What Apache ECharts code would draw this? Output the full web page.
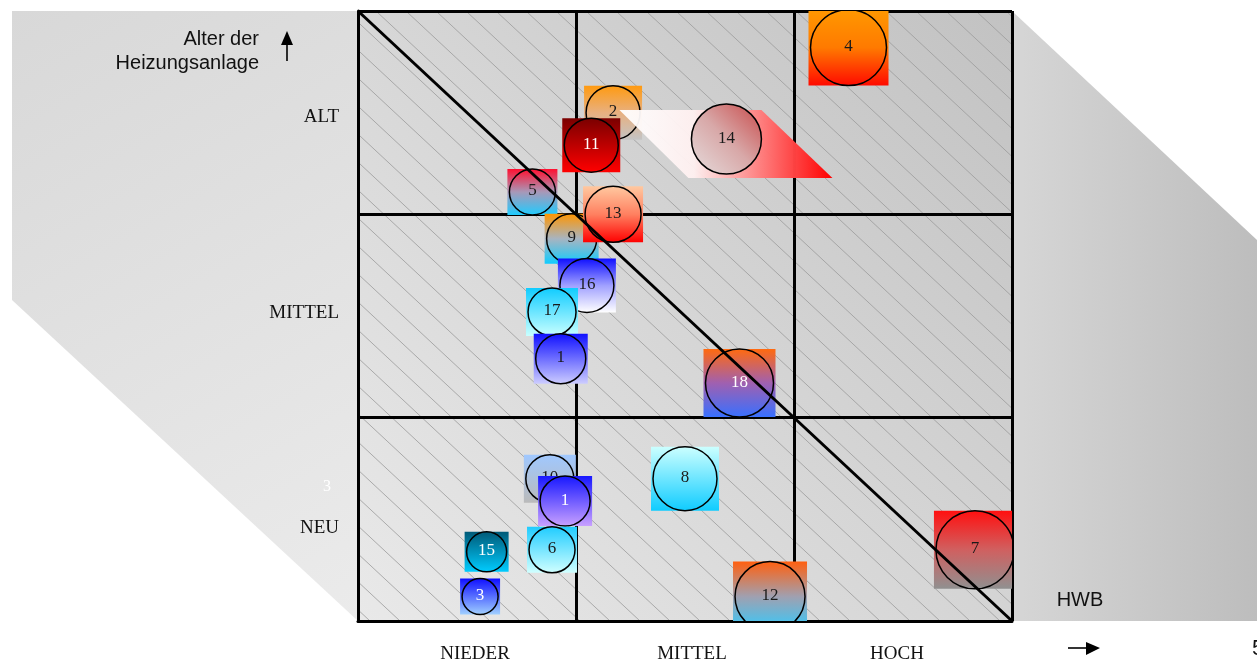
<!DOCTYPE html>
<html><head><meta charset="utf-8">
<script src="https://cdn.jsdelivr.net/npm/echarts@6/dist/echarts.min.js"></script>
<style>html,body{margin:0;padding:0;background:#fff}#c{width:1257px;height:665px}</style>
</head><body><div id="c"></div>
<script>
// ---- Daten ----
const hwbKategorien = ['NIEDER', 'MITTEL', 'HOCH'];
const alterKategorien = ['NEU', 'MITTEL', 'ALT'];
const nummern   = ['4', '2', '14', '11', '5', '9', '13', '16', '17', '1', '18', '10', '1', '8', '15', '6', '3', '12', '7'];
const hwbWerte  = [2.25, 1.17, 1.69, 1.07, 0.80, 0.98, 1.17, 1.05, 0.89, 0.93, 1.75, 0.88, 0.95, 1.50, 0.59, 0.89, 0.56, 1.89, 2.83];
const alterWerte= [2.82, 2.50, 2.37, 2.34, 2.11, 1.88, 2.00, 1.65, 1.52, 1.29, 1.17, 0.70, 0.59, 0.70, 0.34, 0.35, 0.12, 0.12, 0.35];
const groesse   = [39, 28, 35, 28, 24, 26, 29, 28, 25, 26, 35, 25, 26, 33, 21, 24, 19, 36, 40];

// ---- Stile ----
const farbVerlauf = [
  ['#ff9800', '#ff7a00', '#ff0a00'],
  ['#ff9a10', '#e8b080', '#c4c4c4'],
  ['#ffffff', '#ff0000'],
  ['#7a0000', '#ff0000'],
  ['#ff1030', '#a898b8', '#20ccff'],
  ['#ff9500', '#a8b4c0', '#10ccff'],
  ['#ffc8a0', '#ff8060', '#ff0000'],
  ['#1010ff', '#a0a0ff', '#ffffff'],
  ['#10ccff', '#c8ffff'],
  ['#1010ff', '#ccccff'],
  ['#ff6a10', '#a060b0', '#3870ff'],
  ['#a0c8ff', '#bababa'],
  ['#1818ff', '#c8a0ff'],
  ['#ccffff', '#10ccff'],
  ['#005a78', '#00ccff'],
  ['#20ccff', '#d0ffff'],
  ['#1010ff', '#a0d0ff'],
  ['#ff6010', '#a0a0b0', '#30ccff'],
  ['#ff1010', '#d06060', '#909090']
];
const weisseSchrift = [false, false, false, true, false, false, false, false, false, false, true, false, true, false, true, false, true, false, false];

const L = 358, T = 11, W = 654, H = 610;
const chart = echarts.init(document.getElementById('c'));

function stopsOf(arr) {
  return arr.map((c, j, a) => ({ offset: a.length === 1 ? 0 : j / (a.length - 1), color: c }));
}

function renderItem(params, api) {
  const i = params.dataIndex;
  const p = api.coord([api.value(0), api.value(1)]);
  const r = api.value(2);
  const kids = [];
  if (nummern[i] === '14') {
    const s = r / 35;
    kids.push({
      type: 'polygon',
      shape: { points: [[p[0] - 107 * s, p[1] - 29 * s], [p[0] + 35 * s, p[1] - 29 * s], [p[0] + 106 * s, p[1] + 39 * s], [p[0] - 38 * s, p[1] + 39 * s]] },
      style: { fill: new echarts.graphic.LinearGradient(0, 0, 1, 0, [
        { offset: 0, color: 'rgba(255,255,255,0.95)' }, { offset: 0.35, color: 'rgba(255,240,240,0.95)' }, { offset: 1, color: '#ff0000' }]) }
    });
    kids.push({
      type: 'circle', shape: { cx: p[0], cy: p[1], r: r },
      style: { fill: new echarts.graphic.LinearGradient(0, 1, 1, 0, [
        { offset: 0, color: '#e6dede' }, { offset: 0.5, color: '#d8a8a8' }, { offset: 1, color: '#c84848' }]), stroke: '#000', lineWidth: 1.5 }
    });
  } else {
    kids.push({
      type: 'rect',
      shape: { x: p[0] - r - 1, y: p[1] - r + 1, width: 2 * r + 2, height: 2 * r - 2 },
      style: { fill: new echarts.graphic.LinearGradient(0, 0, 0, 1, stopsOf(farbVerlauf[i])) }
    });
    kids.push({
      type: 'circle', shape: { cx: p[0], cy: p[1], r: r - 1 },
      style: { fill: 'none', stroke: '#000', lineWidth: 1.5 }
    });
  }
  kids.push({
    type: 'text',
    style: { text: nummern[i], x: p[0], y: p[1] - 1, align: 'center', verticalAlign: 'middle',
      font: '17px "Liberation Serif"', fill: weisseSchrift[i] ? '#ffffff' : '#1a1a1a' }
  });
  return { type: 'group', children: kids };
}

// Schraffur im Diagrammfeld (parallel zur Diagonalen)
const hatch = [];
const dxdy = W / H, step = 30;
for (let k = -H * dxdy + 12; k < W; k += step) {
  let x1 = k, y1 = 0, x2 = k + H * dxdy, y2 = H;
  if (x1 < 0) { y1 = -x1 / dxdy; x1 = 0; }
  if (x2 > W) { y2 = (W - k) / dxdy; x2 = W; }
  if (y2 <= y1) continue;
  hatch.push({ type: 'line', silent: true, z: -9,
    shape: { x1: L + x1, y1: T + y1, x2: L + x2, y2: T + y2 },
    style: { stroke: '#9a9a9a', lineWidth: 0.8 } });
}

const graphics = [
  { type: 'polygon', silent: true, z: -10,
    shape: { points: [[12, 11], [L, 11], [L, T + H], [12, 300]] },
    style: { fill: new echarts.graphic.LinearGradient(0, 0, 1, 1, [{ offset: 0, color: '#d8d8d8' }, { offset: 1, color: '#ebebeb' }]) } },
  { type: 'polygon', silent: true, z: -10,
    shape: { points: [[L + W, 11], [1257, 240], [1257, T + H], [L + W, T + H]] },
    style: { fill: new echarts.graphic.LinearGradient(0, 0, 1, 0, [{ offset: 0, color: '#d6d6d6' }, { offset: 1, color: '#bdbdbd' }]) } },
  { type: 'rect', silent: true, z: -10,
    shape: { x: L, y: T, width: W, height: H },
    style: { fill: new echarts.graphic.LinearGradient(0, 1, 1, 0, [{ offset: 0, color: '#e9e9e9' }, { offset: 1, color: '#c2c2c2' }]) } },
  ...hatch,
  { type: 'text', z: 10, style: { text: 'Alter der', x: 259, y: 39, align: 'right', verticalAlign: 'middle', font: '20px "Liberation Sans"', fill: '#111' } },
  { type: 'text', z: 10, style: { text: 'Heizungsanlage', x: 259, y: 63, align: 'right', verticalAlign: 'middle', font: '20px "Liberation Sans"', fill: '#111' } },
  { type: 'polygon', z: 10, shape: { points: [[287, 31], [293, 45], [281, 45]] }, style: { fill: '#000' } },
  { type: 'line', z: 10, shape: { x1: 287, y1: 44, x2: 287, y2: 61 }, style: { stroke: '#000', lineWidth: 1.6 } },
  { type: 'text', z: 10, style: { text: 'HWB', x: 1080, y: 600, align: 'center', verticalAlign: 'middle', font: '20px "Liberation Sans"', fill: '#111' } },
  { type: 'line', z: 10, shape: { x1: 1068, y1: 648, x2: 1087, y2: 648 }, style: { stroke: '#000', lineWidth: 1.6 } },
  { type: 'polygon', z: 10, shape: { points: [[1100, 648], [1086, 642], [1086, 655]] }, style: { fill: '#000' } },
  { type: 'text', z: 10, style: { text: '5', x: 1252, y: 649, align: 'left', verticalAlign: 'middle', font: '22px "Liberation Sans"', fill: '#111' } },
  { type: 'text', z: 10, style: { text: '3', x: 327, y: 487, align: 'center', verticalAlign: 'middle', font: '16px "Liberation Serif"', fill: '#ffffff' } }
];

const serif = { fontFamily: 'Liberation Serif', fontSize: 19, color: '#111' };
const xRich = {
  a: Object.assign({ padding: [0, 0, 0, 16] }, serif),
  b: Object.assign({ padding: [0, 0, 0, 14] }, serif),
  c: Object.assign({ padding: [0, 12, 0, 0] }, serif)
};
const yRich = {
  a: Object.assign({ padding: [18, 0, 0, 0] }, serif),
  b: Object.assign({ padding: [0, 0, 6, 0] }, serif),
  c: Object.assign({ padding: [8, 0, 0, 0] }, serif)
};
const keys = ['a', 'b', 'c'];

chart.setOption({
  animation: false,
  backgroundColor: '#ffffff',
  grid: { left: L, top: T, width: W, height: H, containLabel: false },
  graphic: { elements: graphics },
  xAxis: [
    { type: 'value', min: 0, max: 3, interval: 1,
      axisLine: { show: true, onZero: false, lineStyle: { color: '#000', width: 3 } },
      axisTick: { show: false }, axisLabel: { show: false },
      splitLine: { show: true, lineStyle: { color: '#000', width: 3 } } },
    { type: 'category', data: hwbKategorien, position: 'bottom', boundaryGap: true,
      axisLine: { show: false }, axisTick: { show: false }, splitLine: { show: false },
      axisLabel: Object.assign({ margin: 24, rich: xRich,
        formatter: (v, i) => '{' + keys[i] + '|' + v + '}' }, serif) }
  ],
  yAxis: [
    { type: 'value', min: 0, max: 3, interval: 1,
      axisLine: { show: true, onZero: false, lineStyle: { color: '#000', width: 3 } },
      axisTick: { show: false }, axisLabel: { show: false },
      splitLine: { show: true, lineStyle: { color: '#000', width: 3 } } },
    { type: 'category', data: alterKategorien, position: 'left', boundaryGap: true,
      axisLine: { show: false }, axisTick: { show: false }, splitLine: { show: false },
      axisLabel: Object.assign({ margin: 19, rich: yRich,
        formatter: (v, i) => '{' + keys[i] + '|' + v + '}' }, serif) }
  ],
  series: [
    { type: 'custom', xAxisIndex: 0, yAxisIndex: 0, clip: true, z: 5,
      renderItem: renderItem,
      data: nummern.map((n, i) => [hwbWerte[i], alterWerte[i], groesse[i]]) },
    { type: 'line', xAxisIndex: 0, yAxisIndex: 0, z: 8, symbol: 'none', silent: true,
      lineStyle: { color: '#000', width: 3 }, data: [[0, 3], [3, 0]] }
  ]
});
</script></body></html>
